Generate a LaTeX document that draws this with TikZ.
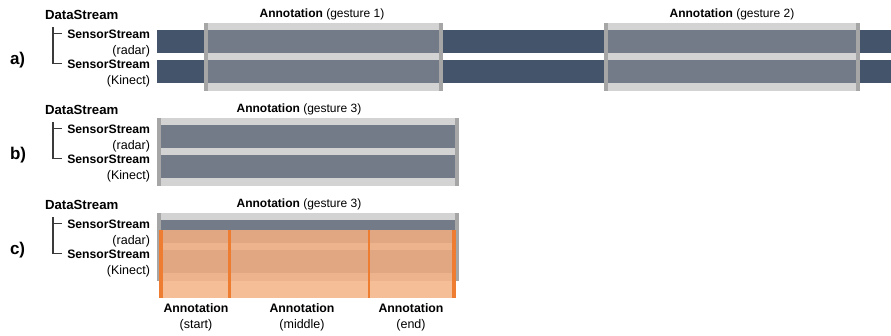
\documentclass[tikz,border=0pt]{standalone}
\usepackage{fontspec}
\setmainfont{Liberation Sans}
\definecolor{darkbar}{HTML}{44546A}
\definecolor{midbar}{HTML}{747B88}
\definecolor{lightbg}{HTML}{D3D3D3}
\definecolor{edgegray}{HTML}{A6A6A6}
\definecolor{orline}{HTML}{EE7D31}
\definecolor{orA}{HTML}{F6BE96}
\definecolor{orB}{HTML}{EDB38D}
\definecolor{orC}{HTML}{E1A783}
\definecolor{treeline}{HTML}{3A3A3A}
\begin{document}
\begin{tikzpicture}[x=1pt,y=-1pt,
  every node/.style={inner sep=0pt,outer sep=0pt},
  paneltxt/.style={font=\bfseries\fontsize{17}{19}\selectfont,anchor=base west},
  dstxt/.style={font=\bfseries\fontsize{13.2}{15}\selectfont,anchor=base west},
  sstxt/.style={font=\bfseries\fontsize{12.2}{14}\selectfont,anchor=base east},
  subtxt/.style={font=\fontsize{12.5}{14}\selectfont,anchor=base east},
  anntxt/.style={font=\fontsize{12}{14}\selectfont,anchor=base},
  botbold/.style={font=\bfseries\fontsize{12.3}{14}\selectfont,anchor=base},
  botreg/.style={font=\fontsize{12.5}{14}\selectfont,anchor=base},
  tree/.style={draw=treeline,line width=1.2pt},
  darkfill/.style={fill=darkbar},
  midfill/.style={fill=midbar},
  lightfill/.style={fill=lightbg},
  edgefill/.style={fill=edgegray},
  orlinefill/.style={fill=orline}
]
\useasboundingbox (0,0) rectangle (891,335);

% ---------- panel a ----------
\path[darkfill] (157,30) rectangle (891,53);
\path[darkfill] (157,60) rectangle (891,83);
% annotation gesture 1
\path[lightfill] (204,23) rectangle (443,91);
\path[midfill] (208,30) rectangle (439,53);
\path[midfill] (208,60) rectangle (439,83);
\path[edgefill] (204,23) rectangle (208,91);
\path[edgefill] (439,23) rectangle (443,91);
% annotation gesture 2
\path[lightfill] (604,23) rectangle (860,91);
\path[midfill] (608,30) rectangle (856,53);
\path[midfill] (608,60) rectangle (856,83);
\path[edgefill] (604,23) rectangle (608,91);
\path[edgefill] (856,23) rectangle (860,91);

\node[paneltxt] (pa) at (10,64) {a)};
\node[dstxt] (dsA) at (45,19) {DataStream};
\node[sstxt] (ssA1) at (150,38) {SensorStream};
\node[subtxt] (subA1) at (150,54) {(radar)};
\node[sstxt] (ssA2) at (150,68) {SensorStream};
\node[subtxt] (subA2) at (150,84) {(Kinect)};
\coordinate (tA) at (53,27);
\draw[tree] (tA) |- ([xshift=-5pt]ssA1.west);
\draw[tree] (tA) |- ([xshift=-5pt]ssA2.west);
\node[anntxt] (annA1) at (322,17.5) {\textbf{Annotation} (gesture 1)};
\node[anntxt] (annA2) at (732,17.5) {\textbf{Annotation} (gesture 2)};

% ---------- panel b ----------
\path[lightfill] (157,118) rectangle (459,186);
\path[midfill] (161,125) rectangle (455,148);
\path[midfill] (161,155) rectangle (455,178);
\path[edgefill] (157,118) rectangle (161,186);
\path[edgefill] (455,118) rectangle (459,186);

\node[paneltxt] (pb) at (10,159) {b)};
\node[dstxt] (dsB) at (45,114) {DataStream};
\node[sstxt] (ssB1) at (150,133) {SensorStream};
\node[subtxt] (subB1) at (150,149) {(radar)};
\node[sstxt] (ssB2) at (150,163) {SensorStream};
\node[subtxt] (subB2) at (150,179) {(Kinect)};
\coordinate (tB) at (53,122);
\draw[tree] (tB) |- ([xshift=-5pt]ssB1.west);
\draw[tree] (tB) |- ([xshift=-5pt]ssB2.west);
\node[anntxt] (annB) at (299,112.5) {\textbf{Annotation} (gesture 3)};

% ---------- panel c ----------
\path[lightfill] (157,213) rectangle (459,281);
\path[midfill] (161,220) rectangle (455,243);
\path[midfill] (161,250) rectangle (455,273);
\path[edgefill] (157,213) rectangle (161,281);
\path[edgefill] (455,213) rectangle (459,281);
% orange sub-annotations
\path[fill=orA] (159,230) rectangle (456,297.5);
\path[fill=orB] (159,230) rectangle (456,281);
\path[fill=orC] (159,230) rectangle (456,243);
\path[fill=orC] (159,250) rectangle (456,273);
\path[orlinefill] (159,230) rectangle (162.5,297.5);
\path[orlinefill] (227.5,230) rectangle (230.8,297.5);
\path[orlinefill] (367.8,230) rectangle (370.2,297.5);
\path[orlinefill] (452.3,230) rectangle (456,297.5);

\node[paneltxt] (pc) at (10,254) {c)};
\node[dstxt] (dsC) at (45,209) {DataStream};
\node[sstxt] (ssC1) at (150,228) {SensorStream};
\node[subtxt] (subC1) at (150,244) {(radar)};
\node[sstxt] (ssC2) at (150,258) {SensorStream};
\node[subtxt] (subC2) at (150,274) {(Kinect)};
\coordinate (tC) at (53,217);
\draw[tree] (tC) |- ([xshift=-5pt]ssC1.west);
\draw[tree] (tC) |- ([xshift=-5pt]ssC2.west);
\node[anntxt] (annC) at (299,207.5) {\textbf{Annotation} (gesture 3)};

\node[botbold] (bs1) at (196,312.5) {Annotation};
\node[botreg] (bs2) at (196,328) {(start)};
\node[botbold] (bm1) at (302,312.5) {Annotation};
\node[botreg] (bm2) at (302,328) {(middle)};
\node[botbold] (be1) at (411,312.5) {Annotation};
\node[botreg] (be2) at (411,328) {(end)};
\end{tikzpicture}
\end{document}
